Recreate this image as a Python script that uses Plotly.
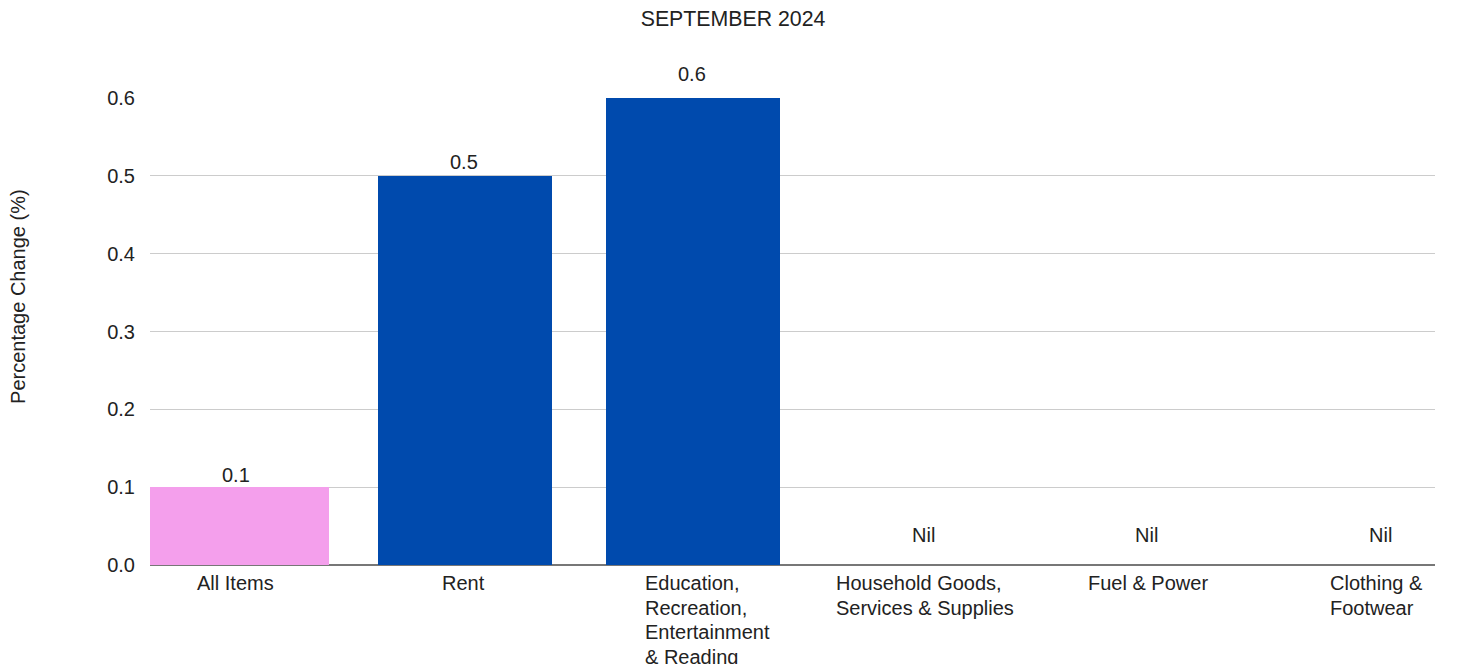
import plotly.graph_objects as go

# ---- data ----
categories = ["All Items", "Rent",
              "Education,<br>Recreation,<br>Entertainment<br>& Reading",
              "Household Goods,<br>Services & Supplies",
              "Fuel & Power", "Clothing &<br>Footwear"]
values = [0.1, 0.5, 0.6, 0.0, 0.0, 0.0]
value_labels = ["0.1", "0.5", "0.6", "Nil", "Nil", "Nil"]
y_ticks = [0.0, 0.1, 0.2, 0.3, 0.4, 0.5, 0.6]
y_tick_labels = ["0.0", "0.1", "0.2", "0.3", "0.4", "0.5", "0.6"]
title_text = "SEPTEMBER 2024"
y_title = "Percentage Change (%)"

# ---- styling ----
FONT = "Liberation Sans, Arial, sans-serif"
FS = 20
TXT = "#222222"
bar_colors = ["#F49FEC", "#004AAD", "#004AAD", "#004AAD", "#004AAD", "#004AAD"]
bar_widths = [0.785, 0.763, 0.763, 0.763, 0.763, 0.763]
# left edge of multi-line label blocks relative to category centre (px); None -> centred
label_left = [None, None, -49, -86, None, -48]
LINE_H = 24.7
value_yshift = [12, 14, 24, 30, 30, 30]
nil_xshift = [0, 0, 0, 4, -1, 5]

# page has an 8px body margin; figure sized so that the plot lands where the reference has it
W, H = 1463, 656

x_idx = list(range(len(categories)))

fig = go.Figure()
fig.add_trace(go.Bar(
    x=x_idx, y=values,
    marker=dict(color=bar_colors, line=dict(width=0)),
    width=bar_widths, offset=-0.377,
    hoverinfo="skip", showlegend=False, cliponaxis=False,
))

annotations = []
# value labels
for i, (v, t) in enumerate(zip(values, value_labels)):
    annotations.append(dict(
        x=i, y=v, xref="x", yref="y", text=t, showarrow=False,
        xanchor="center", yanchor="middle", yshift=value_yshift[i],
        xshift=nil_xshift[i],
        font=dict(family=FONT, size=FS, color=TXT)))
# category labels (left-aligned multi-line blocks, one annotation per line)
for i, c in enumerate(categories):
    lines = c.split("<br>")
    for k, ln in enumerate(lines):
        if label_left[i] is None:
            anchor, xs = "center", 0
        else:
            anchor, xs = "left", label_left[i]
        annotations.append(dict(
            x=i, y=0, xref="x", yref="paper", text=ln, showarrow=False,
            xanchor=anchor, yanchor="middle", yshift=-18 - k * LINE_H,
            xshift=xs,
            font=dict(family=FONT, size=FS, color=TXT)))
# y-axis title
annotations.append(dict(
    x=0, y=0.574, xref="paper", yref="paper", text=y_title, showarrow=False,
    textangle=-90, xanchor="center", yanchor="middle", xshift=-132,
    font=dict(family=FONT, size=20, color=TXT)))

fig.update_layout(
    width=W, height=H,
    margin=dict(l=142, r=36, t=90, b=99),
    paper_bgcolor="white", plot_bgcolor="white",
    font=dict(family=FONT, size=FS, color=TXT),
    title=dict(text=title_text, x=(733 - 8) / W, xanchor="center",
               y=1 - 11 / H, yanchor="middle", yref="container",
               font=dict(family=FONT, size=21.3, color=TXT)),
    xaxis=dict(range=[-0.377, 5.259], showticklabels=False, showgrid=False,
               zeroline=False, showline=False, fixedrange=True),
    yaxis=dict(range=[0, 0.6], tickvals=y_ticks, ticktext=y_tick_labels,
               showgrid=True, gridcolor="#CCCCCC", gridwidth=1,
               zeroline=True, zerolinecolor="#777777", zerolinewidth=1.5,
               showline=False, ticks="", ticklabelstandoff=14,
               tickfont=dict(family=FONT, size=FS, color=TXT)),
    annotations=annotations,
    bargap=0,
)

fig.write_html("out.html")
